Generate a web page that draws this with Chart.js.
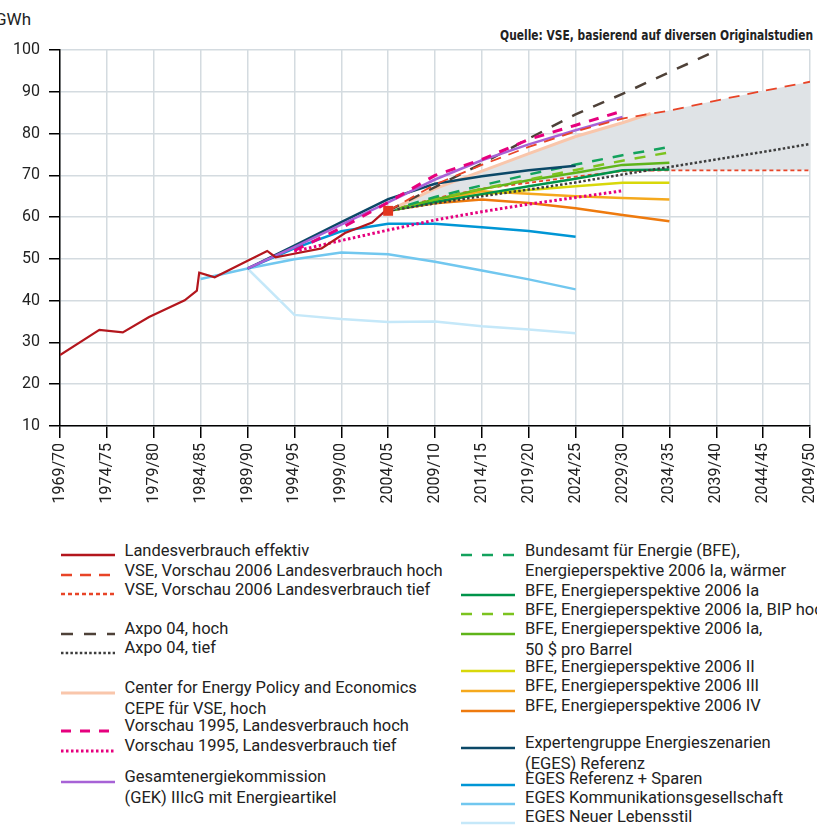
<!DOCTYPE html>
<html lang="de">
<head>
<meta charset="utf-8">
<title>Landesverbrauch – Prognosen</title>
<script src="https://cdn.jsdelivr.net/npm/chart.js@4.4.1/dist/chart.umd.min.js"></script>
<style>
    html, body { margin: 0; padding: 0; background: #fff; width: 817px; height: 826px; overflow: hidden; }
    body { position: relative; font-family: Roboto, "Noto Sans", sans-serif; color: #222; }
    #chartBox { position: absolute; left: 0; top: 0; width: 817px; height: 525px; }
    .unit { position: absolute; left: -5px; top: 8px; font-size: 17px; line-height: 22px; }
    .source { position: absolute; right: 4px; top: 26px; font-size: 14px; line-height: 18px; font-weight: bold;
              font-family: "Liberation Sans Narrow", "DejaVu Sans Condensed", sans-serif; white-space: nowrap;
              transform-origin: right center; }
    .lg-text { position: absolute; font-size: 16.5px; line-height: 20px; white-space: nowrap; }
    .lg-line { position: absolute; }
</style>
</head>
<body>
<div class="unit">GWh</div>
<div class="source" id="source">Quelle: VSE, basierend auf diversen Originalstudien</div>
<div id="chartBox"><canvas id="mainChart" width="817" height="525"></canvas></div>
<div id="legend"></div>

<script>
// Landesverbrauch effektiv (Jahr = zweites Jahr des Hydrologischen Jahres)
const histYears  = [1970, 1974.2, 1976.7, 1979.5, 1983.3, 1984.6, 1984.85, 1986.5, 1989.8, 1992.1, 1993.0, 1995.1, 1997.9, 2000.4, 2003.3, 2004.7];
const histValues = [27.0, 33.0, 32.4, 36.1, 40.1, 42.4, 46.7, 45.6, 49.3, 51.9, 50.4, 51.3, 52.5, 56.2, 58.7, 61.5];

// VSE / Axpo (2005 - 2050)
const vseYears  = [2005, 2010, 2015, 2020, 2025, 2030, 2035, 2040, 2045, 2050];
const vseHoch   = [61.5, 67.8, 72.5, 76.8, 80.5, 83.6, 85.5, 87.9, 90.2, 92.4];
const vseTief   = [61.5, 64.5, 66.8, 68.2, 69.7, 71.0, 71.2, 71.2, 71.2, 71.2];
const axpoYears = [2005, 2010, 2015, 2020, 2025, 2030, 2035, 2040];
const axpoHoch  = [61.5, 67.2, 72.8, 78.8, 84.6, 89.5, 94.7, 99.8];
const axpoTief  = [61.5, 63.3, 65.0, 66.6, 68.3, 70.2, 72.0, 73.8, 75.6, 77.5];

// CEPE und grau hinterlegter Bereich
const cepeYears = [2005, 2010, 2015, 2020, 2025, 2030, 2033];
const cepeHoch  = [61.5, 66.8, 71.0, 75.2, 79.3, 82.6, 84.8];
const bandYears = [2005, 2010, 2015, 2020, 2025, 2030, 2033, 2035, 2040, 2045, 2050];
const bandUpper = [61.5, 66.8, 71.0, 75.2, 79.3, 82.6, 84.8, 85.5, 87.9, 90.2, 92.4];

// Vorschau 1995 und GEK
const vorschauYears = [1995, 2000, 2005, 2010, 2015, 2020, 2025, 2030];
const vorschauHoch  = [52.0, 57.4, 63.5, 70.0, 73.8, 78.6, 82.0, 85.4];
const vorschauTief  = [51.8, 54.4, 56.9, 59.3, 61.3, 63.1, 64.7, 66.3];
const gekYears  = [1990, 1995, 2000, 2005, 2010, 2015, 2020, 2025, 2030];
const gekValues = [47.7, 52.8, 58.2, 63.5, 69.0, 73.6, 77.4, 80.8, 84.0];

// BFE Energieperspektiven 2035
const bfeYears   = [2005, 2010, 2015, 2020, 2025, 2030, 2035];
const bfeWaermer = [61.5, 64.8, 67.6, 70.2, 72.6, 74.8, 76.8];
const bfeIa      = [61.5, 63.6, 65.5, 67.4, 69.2, 71.2, 71.4];
const bfeIaBip   = [61.5, 64.3, 66.8, 69.0, 71.3, 73.5, 75.5];
const bfeIa50    = [61.5, 64.2, 66.7, 68.8, 70.6, 72.5, 73.0];
const bfeII      = [61.5, 63.6, 65.5, 66.5, 67.4, 68.2, 68.2];
const bfeIII     = [61.5, 64.0, 66.2, 65.6, 65.0, 64.6, 64.2];
const bfeIV      = [61.5, 63.3, 64.2, 63.4, 62.1, 60.5, 59.0];

// EGES Szenarien
const egesYears      = [1990, 1995, 2000, 2005, 2010, 2015, 2020, 2025];
const egesReferenz   = [47.7, 53.2, 58.8, 64.3, 68.0, 69.8, 71.2, 72.3];
const egesSparen     = [47.7, 52.5, 56.6, 58.4, 58.4, 57.6, 56.7, 55.3];
const egesKommYears  = [1985, 1990, 1995, 2000, 2005, 2010, 2015, 2020, 2025];
const egesKomm       = [45.2, 47.7, 49.9, 51.5, 51.1, 49.3, 47.2, 45.1, 42.7];
const egesLebensstil = [47.7, 36.6, 35.6, 34.9, 35.0, 33.9, 33.1, 32.2];

// Achsen
const xTickYears = { min: 1970, max: 2050, step: 5 };
const yTicks = { min: 10, max: 100, step: 10 };

// Stil der Reihen (Reihenfolge = Zeichenreihenfolge, erste oben)
const series = [
    { key: 'vseHoch', label: ['VSE, Vorschau 2006 Landesverbrauch hoch'], years: vseYears, values: vseHoch, color: '#e84427', width: 1.8, dash: [11, 8], marker: true },
    { key: 'hist', label: ['Landesverbrauch effektiv'], years: histYears, values: histValues, color: '#b3161d', width: 2.2, dash: [] },
    { key: 'vorHoch', label: ['Vorschau 1995, Landesverbrauch hoch'], years: vorschauYears, values: vorschauHoch, color: '#e6007e', width: 3, dash: [10, 9] },
    { key: 'gek', label: ['Gesamtenergiekommission', '(GEK) IIIcG mit Energieartikel'], years: gekYears, values: gekValues, color: '#a762d6', width: 2.5, dash: [] },
    { key: 'axpoHoch', label: ['Axpo 04, hoch'], years: axpoYears, values: axpoHoch, color: '#4e4138', width: 2.5, dash: [12, 11] },
    { key: 'egesRef', label: ['Expertengruppe Energieszenarien', '(EGES) Referenz'], years: egesYears, values: egesReferenz, color: '#0b4867', width: 2.5, dash: [] },
    { key: 'cepe', label: ['Center for Energy Policy and Economics', 'CEPE für VSE, hoch'], years: cepeYears, values: cepeHoch, color: '#f9c6ab', width: 3, dash: [] },
    { key: 'vorTief', label: ['Vorschau 1995, Landesverbrauch tief'], years: vorschauYears, values: vorschauTief, color: '#e6007e', width: 3, dash: [2.5, 2.5] },
    { key: 'axpoTief', label: ['Axpo 04, tief'], years: vseYears, values: axpoTief, color: '#3d3d3d', width: 2.5, dash: [2.5, 2.2] },
    { key: 'bfeWaermer', label: ['Bundesamt für Energie (BFE),', 'Energieperspektive 2006 Ia, wärmer'], years: bfeYears, values: bfeWaermer, color: '#13a25d', width: 2.5, dash: [11, 10] },
    { key: 'bfeBip', label: ['BFE, Energieperspektive 2006 Ia, BIP hoch'], years: bfeYears, values: bfeIaBip, color: '#7cc31f', width: 2.5, dash: [11, 10] },
    { key: 'bfe50', label: ['BFE, Energieperspektive 2006 Ia,', '50 $ pro Barrel'], years: bfeYears, values: bfeIa50, color: '#5fb41a', width: 2.5, dash: [] },
    { key: 'bfeIa', label: ['BFE, Energieperspektive 2006 Ia'], years: bfeYears, values: bfeIa, color: '#00944a', width: 2.5, dash: [] },
    { key: 'bfeII', label: ['BFE, Energieperspektive 2006 II'], years: bfeYears, values: bfeII, color: '#d8d80a', width: 2.5, dash: [] },
    { key: 'bfeIII', label: ['BFE, Energieperspektive 2006 III'], years: bfeYears, values: bfeIII, color: '#f5a91d', width: 2.5, dash: [] },
    { key: 'bfeIV', label: ['BFE, Energieperspektive 2006 IV'], years: bfeYears, values: bfeIV, color: '#ee7a0e', width: 2.5, dash: [] },
    { key: 'egesSparen', label: ['EGES Referenz + Sparen'], years: egesYears, values: egesSparen, color: '#0096d5', width: 2.5, dash: [] },
    { key: 'egesKomm', label: ['EGES Kommunikationsgesellschaft'], years: egesKommYears, values: egesKomm, color: '#71c7ef', width: 2.5, dash: [] },
    { key: 'egesNeu', label: ['EGES Neuer Lebensstil'], years: egesYears, values: egesLebensstil, color: '#c5e8f9', width: 2.5, dash: [] },
    { key: 'vseTief', label: ['VSE, Vorschau 2006 Landesverbrauch tief'], years: vseYears, values: vseTief, color: '#e84427', width: 1.8, dash: [4, 3] }
];

// Legende: [Reihe, Spalte, Textzeilen-Mitte (y), Linie (y)]
const legendRows = [
    ['hist', 0, 550.7, 554.5], ['vseHoch', 0, 570.5, 574.5], ['vseTief', 0, 590, 594],
    ['axpoHoch', 0, 629, 634], ['axpoTief', 0, 648.3, 653],
    ['cepe', 0, 688.3, 692.7], ['vorHoch', 0, 726, 731], ['vorTief', 0, 746, 750.7],
    ['gek', 0, 777.3, 781.7],
    ['bfeWaermer', 1, 550.7, 555], ['bfeIa', 1, 591, 595], ['bfeBip', 1, 610, 614],
    ['bfe50', 1, 629.3, 634], ['bfeII', 1, 666.7, 670.7], ['bfeIII', 1, 685.7, 690.7],
    ['bfeIV', 1, 706, 710.7], ['egesRef', 1, 743.3, 747.7], ['egesSparen', 1, 779.3, 785],
    ['egesKomm', 1, 798.3, 804], ['egesNeu', 1, 816.7, 822.7]
];
const legendColumns = [{ lineX: 61, textX: 124.5 }, { lineX: 461, textX: 525 }];

document.addEventListener('DOMContentLoaded', () => {
    fitSource();
    renderChart();
    renderLegend();
});

// Quellenangabe auf die Breite im Original bringen
function fitSource() {
    const el = document.getElementById('source');
    const w = el.getBoundingClientRect().width;
    el.style.transform = 'scaleX(' + (313 / w) + ')';
}

function toPoints(years, values) {
    return years.map((x, i) => ({ x: x, y: values[i] }));
}

function yearLabel(v) {
    return (v - 1) + '/' + String(v % 100).padStart(2, '0');
}

function renderChart() {
    const ctx = document.getElementById('mainChart');

    const datasets = series.map(s => ({
        label: s.label.join(' '),
        data: toPoints(s.years, s.values),
        borderColor: s.color,
        backgroundColor: s.color,
        borderWidth: s.width,
        borderDash: s.dash,
        borderCapStyle: 'butt',
        tension: 0,
        fill: false,
        pointStyle: 'rect',
        pointRadius: s.marker ? (c => c.dataIndex === 0 ? 7 : 0) : 0,
        pointBorderWidth: 0,
        pointBackgroundColor: '#e3361f'
    }));

    // grauer Bereich zwischen oberer Grenze und VSE tief
    const tiefIndex = series.findIndex(s => s.key === 'vseTief');
    datasets.push({
        label: 'Bereich',
        data: toPoints(bandYears, bandUpper),
        borderColor: 'rgba(0,0,0,0)',
        borderWidth: 0,
        backgroundColor: '#dfe3e6',
        pointRadius: 0,
        tension: 0,
        fill: tiefIndex
    });

    const tickFont = { family: 'Roboto', size: 16 };

    new Chart(ctx, {
        type: 'line',
        data: { datasets: datasets },
        options: {
            responsive: false,
            animation: false,
            layout: { padding: { top: 50, right: 4, left: 0, bottom: 0 } },
            plugins: {
                legend: { display: false },
                tooltip: { enabled: false },
                filler: { drawTime: 'beforeDatasetsDraw' }
            },
            scales: {
                x: {
                    type: 'linear',
                    min: xTickYears.min,
                    max: xTickYears.max,
                    afterFit: scale => { scale.height = 99; scale.paddingLeft = 0; scale.paddingRight = 0; },
                    ticks: {
                        stepSize: xTickYears.step,
                        autoSkip: false,
                        minRotation: 90,
                        maxRotation: 90,
                        padding: 5,
                        color: '#222',
                        font: tickFont,
                        callback: v => yearLabel(v)
                    },
                    grid: { color: '#d4dbe0', lineWidth: 1.5, tickColor: '#000', tickLength: 12, tickWidth: 1.5 },
                    border: { color: '#000', width: 1.5 }
                },
                y: {
                    min: yTicks.min,
                    max: yTicks.max,
                    afterFit: scale => { scale.width = 60; },
                    ticks: { stepSize: yTicks.step, padding: 9, color: '#222', font: tickFont },
                    grid: { color: '#d4dbe0', lineWidth: 1.5, tickColor: '#000', tickLength: 11, tickWidth: 1.5 },
                    border: { color: '#000', width: 1.5 }
                }
            }
        }
    });
}

// Legende als HTML mit kleinen SVG-Linienmustern
function renderLegend() {
    const box = document.getElementById('legend');
    legendRows.forEach(([key, col, textY, lineY]) => {
        const s = series.find(item => item.key === key);
        const c = legendColumns[col];

        const svgNs = 'http://www.w3.org/2000/svg';
        const svg = document.createElementNS(svgNs, 'svg');
        svg.setAttribute('class', 'lg-line');
        svg.setAttribute('width', '54');
        svg.setAttribute('height', '6');
        svg.style.left = c.lineX + 'px';
        svg.style.top = (lineY - 3) + 'px';
        const line = document.createElementNS(svgNs, 'line');
        line.setAttribute('x1', '0');
        line.setAttribute('x2', '54');
        line.setAttribute('y1', '3');
        line.setAttribute('y2', '3');
        line.setAttribute('stroke', s.color);
        line.setAttribute('stroke-width', Math.max(s.width, 2.5));
        if (s.dash.length) line.setAttribute('stroke-dasharray', s.dash.join(' '));
        svg.appendChild(line);
        box.appendChild(svg);

        s.label.forEach((text, i) => {
            const div = document.createElement('div');
            div.className = 'lg-text';
            div.textContent = text;
            div.style.left = c.textX + 'px';
            div.style.top = (textY - 10 + i * 20.5) + 'px';
            box.appendChild(div);
        });
    });
}
</script>
</body>
</html>
